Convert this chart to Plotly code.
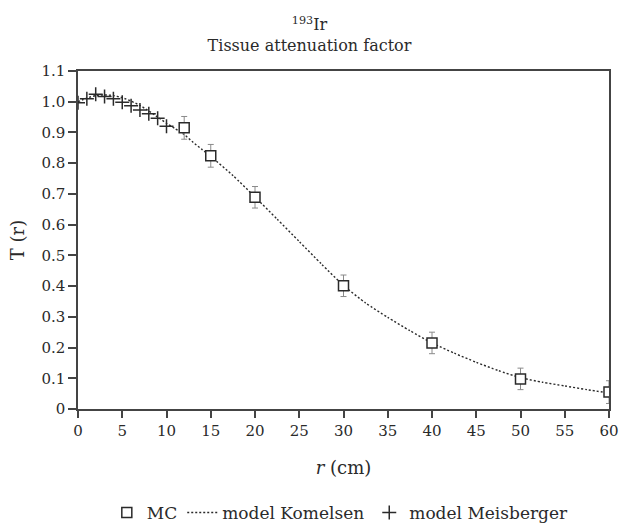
import plotly.graph_objects as go

# MC data
mc_r = [12, 15, 20, 30, 40, 50, 60]
mc_T = [0.915, 0.824, 0.689, 0.401, 0.215, 0.098, 0.055]
mc_err = [0.037, 0.037, 0.035, 0.035, 0.035, 0.035, 0.037]

# model Meisberger
mei_r = [0, 1, 2, 3, 4, 5, 6, 7, 8, 9, 10]
mei_T = [0.997, 1.010, 1.024, 1.017, 1.010, 0.998, 0.987, 0.973, 0.961, 0.946, 0.920]

# model Komelsen curve
kom_r = [0, 1, 2, 3, 4, 5, 6, 7, 8, 9, 10, 11, 12, 13, 14, 15, 17.5, 20, 22.5, 25,
         27.5, 30, 32.5, 35, 37.5, 40, 42.5, 45, 47.5, 50, 52.5, 55, 57.5, 60]
kom_T = [1.000, 1.012, 1.020, 1.022, 1.020, 1.013, 1.002, 0.988, 0.970, 0.950, 0.930,
         0.912, 0.893, 0.868, 0.845, 0.822, 0.760, 0.690, 0.618, 0.545, 0.472, 0.402,
         0.345, 0.298, 0.255, 0.215, 0.182, 0.152, 0.125, 0.102, 0.087, 0.075, 0.063, 0.052]

x_ticks = list(range(0, 61, 5))
y_tickvals = [0, 0.1, 0.2, 0.3, 0.4, 0.5, 0.6, 0.7, 0.8, 0.9, 1.0, 1.1]
y_ticktext = ["0", "0.1", "0.2", "0.3", "0.4", "0.5", "0.6", "0.7", "0.8", "0.9", "1.0", "1.1"]

FONT = "DejaVu Serif"
INK = "#2a2a2a"
FS = 15

fig = go.Figure()

fig.add_trace(go.Scatter(
    x=kom_r, y=kom_T, mode="lines", name="model Komelsen", legendrank=2,
    line=dict(color=INK, width=1.4, dash="2px,2px", shape="spline", smoothing=0.6),
))

fig.add_trace(go.Scatter(
    x=mei_r, y=mei_T, mode="markers", name="model Meisberger", legendrank=3,
    marker=dict(symbol="cross-thin", size=10, line=dict(color=INK, width=1.5)),
))

fig.add_trace(go.Scatter(
    x=mc_r, y=mc_T, mode="markers", name="MC", legendrank=1,
    marker=dict(symbol="square", size=10, color="white", line=dict(color=INK, width=1.5)),
    error_y=dict(type="data", array=mc_err, visible=True, color="#8a8a8a", thickness=1, width=3),
))

fig.update_layout(
    width=619, height=525,
    margin=dict(l=78, r=10, t=71, b=116, autoexpand=False),
    paper_bgcolor="white", plot_bgcolor="white",
    font=dict(family=FONT, size=FS, color=INK),
    title=dict(text="<sup>193</sup>Ir<br>Tissue attenuation factor",
               x=0.5, xanchor="center", y=0.942, yanchor="top",
               font=dict(family=FONT, size=16, color=INK)),
    showlegend=True,
    legend=dict(orientation="h", x=0.494, xanchor="center",
                yref="container", y=0.023, yanchor="middle",
                font=dict(family=FONT, size=17, color=INK),
                traceorder="normal", itemwidth=30),
    xaxis=dict(range=[0, 60], tickvals=x_ticks, ticks="outside", ticklen=7, tickwidth=1.5,
               tickcolor="#444", showline=True, linecolor="#444", linewidth=1.5, mirror=True,
               showgrid=False, zeroline=False, automargin=False,
               title=dict(text="<i>r</i> (cm)", standoff=23),
               tickfont=dict(family=FONT, size=FS, color=INK)),
    yaxis=dict(range=[0, 1.1], tickvals=y_tickvals, ticktext=y_ticktext, ticks="outside",
               ticklen=8, tickwidth=1.5, tickcolor="#444", showline=True, linecolor="#444",
               linewidth=1.5, mirror=True, showgrid=False, zeroline=False, automargin=False,
               title=dict(text="T (r)", standoff=12),
               tickfont=dict(family=FONT, size=FS, color=INK)),
)

fig.write_html(
    "out.html",
    config={"displayModeBar": False},
    post_script="document.body.style.margin='0';document.body.style.overflow='hidden';",
)
